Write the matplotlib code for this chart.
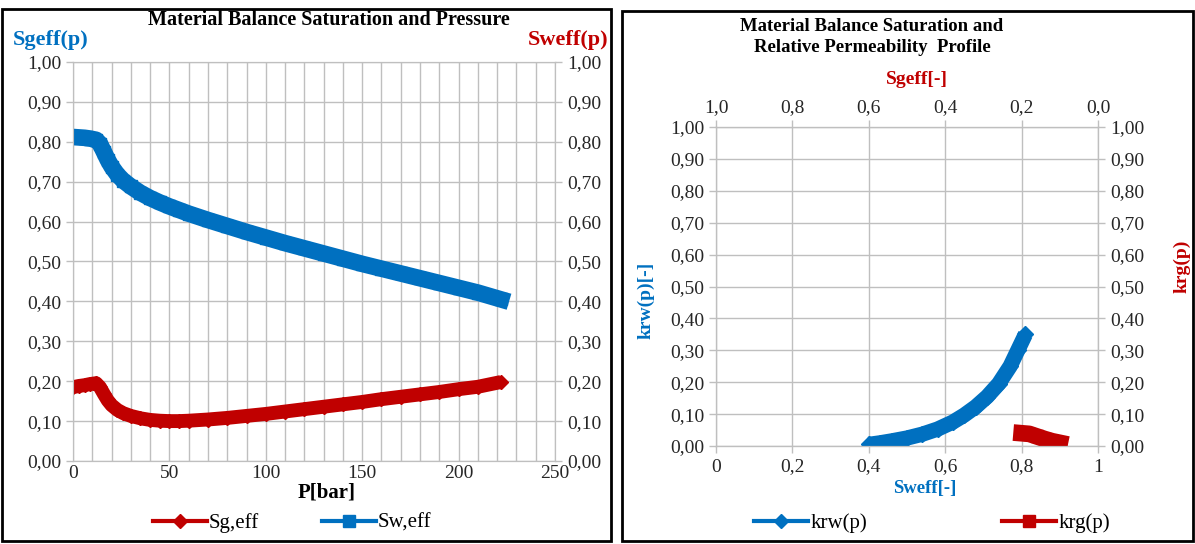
import matplotlib.pyplot as plt
from matplotlib.patches import Rectangle
from matplotlib.ticker import FuncFormatter, MultipleLocator

plt.rcParams['font.family'] = ['Liberation Serif', 'DejaVu Serif']

# pressure [bar] and effective saturations
pressure = [0, 3, 6, 9, 12, 14, 16, 18, 20, 23, 26, 30, 35, 40, 45, 50, 55, 60, 70, 80,
            90, 100, 110, 120, 130, 140, 150, 160, 170, 180, 190, 200, 210, 222]
sw_eff = [0.812, 0.811, 0.810, 0.808, 0.805, 0.795, 0.775, 0.755, 0.738, 0.718, 0.703,
          0.688, 0.672, 0.659, 0.648, 0.638, 0.629, 0.620, 0.604, 0.589, 0.574, 0.560,
          0.546, 0.533, 0.520, 0.507, 0.494, 0.482, 0.470, 0.458, 0.446, 0.434, 0.422, 0.405]
sg_eff = [0.185, 0.188, 0.190, 0.193, 0.195, 0.185, 0.168, 0.152, 0.140, 0.128, 0.120,
          0.113, 0.107, 0.103, 0.101, 0.100, 0.100, 0.101, 0.104, 0.108, 0.113, 0.118,
          0.124, 0.130, 0.136, 0.142, 0.148, 0.155, 0.161, 0.167, 0.173, 0.180, 0.186, 0.198]

# relative permeability vs effective water saturation
sw_krw = [0.40, 0.43, 0.46, 0.50, 0.54, 0.58, 0.62, 0.65, 0.68, 0.71, 0.74, 0.77, 0.79, 0.81]
krw = [0.005, 0.010, 0.016, 0.025, 0.037, 0.053, 0.075, 0.097, 0.123, 0.155, 0.195, 0.250, 0.300, 0.350]
sw_krg = [0.80, 0.82, 0.84, 0.86, 0.88, 0.90]
krg = [0.040, 0.038, 0.030, 0.022, 0.015, 0.010]

blue = '#0070C0'
red = '#C00000'
grid_c = '#BFBFBF'
W, H = 1195, 544

comma2 = FuncFormatter(lambda v, p: f'{v:.2f}'.replace('.', ','))
comma1 = FuncFormatter(lambda v, p: f'{v:.1f}'.replace('.', ','))
plain = FuncFormatter(lambda v, p: ('%g' % v).replace('.', ','))

fig = plt.figure(figsize=(W / 100, H / 100), dpi=100)

# panel frames
fig.patches.append(Rectangle((2 / W, 3 / H), 609 / W, 532 / H, transform=fig.transFigure,
                             fill=False, edgecolor='black', linewidth=2))
fig.patches.append(Rectangle((622 / W, 3 / H), 571 / W, 530 / H, transform=fig.transFigure,
                             fill=False, edgecolor='black', linewidth=2))


def style_axis(ax):
    for s in ax.spines.values():
        s.set_color(grid_c)
    ax.tick_params(labelsize=14, length=5, width=1, color=grid_c, labelcolor='#262626')


# ---- left: saturation vs pressure ----
ax1 = fig.add_axes([73 / W, 1 - 461 / H, 482 / W, 399 / H])
ax1.set_xlim(0, 250)
ax1.set_ylim(0, 1)
ax1.xaxis.set_major_locator(MultipleLocator(50))
ax1.xaxis.set_minor_locator(MultipleLocator(10))
ax1.yaxis.set_major_locator(MultipleLocator(0.1))
ax1.yaxis.set_major_formatter(comma2)
ax1.grid(True, which='both', color=grid_c, linewidth=1)
ax1.set_axisbelow(True)
ax1.plot(pressure, sg_eff, color=red, linewidth=10, marker='D', markersize=7,
         solid_capstyle='butt', zorder=3)
ax1.plot(pressure, sw_eff, color=blue, linewidth=12, marker='s', markersize=8,
         solid_capstyle='projecting', zorder=3)
style_axis(ax1)
ax1.tick_params(axis='x', which='both', length=0, pad=3)
ax1r = ax1.twinx()
ax1r.set_ylim(0, 1)
ax1r.yaxis.set_major_locator(MultipleLocator(0.1))
ax1r.yaxis.set_major_formatter(comma2)
style_axis(ax1r)
fig.text(327 / W, 1 - 492 / H, 'P[bar]', ha='center', va='center', fontsize=15, fontweight='bold')
fig.text(329 / W, 1 - 20 / H, 'Material Balance Saturation and Pressure', ha='center', va='center',
         fontsize=14.5, fontweight='bold')
fig.text(13 / W, 1 - 40 / H, 'Sgeff(p)', ha='left', va='center', fontsize=16,
         fontweight='bold', color=blue)
fig.text(608 / W, 1 - 40 / H, 'Sweff(p)', ha='right', va='center', fontsize=16,
         fontweight='bold', color=red)
h_sg = plt.Line2D([], [], color=red, linewidth=3, marker='D', markersize=7)
h_sw = plt.Line2D([], [], color=blue, linewidth=3, marker='s', markersize=9)
fig.legend([h_sg, h_sw], ['Sg,eff', 'Sw,eff'], loc='center', bbox_to_anchor=(292 / W, 1 - 523 / H),
           ncol=2, frameon=False, fontsize=15, columnspacing=3, handlelength=2.6, handletextpad=0.1)

# ---- right: relative permeability vs saturation ----
ax2 = fig.add_axes([716 / W, 1 - 446 / H, 382 / W, 319 / H])
ax2.set_xlim(0, 1)
ax2.set_ylim(0, 1)
ax2.xaxis.set_major_locator(MultipleLocator(0.2))
ax2.yaxis.set_major_locator(MultipleLocator(0.1))
ax2.xaxis.set_major_formatter(plain)
ax2.yaxis.set_major_formatter(comma2)
ax2.grid(True, color=grid_c, linewidth=1)
ax2.set_axisbelow(True)
ax2.plot(sw_krw, krw, color=blue, linewidth=11, marker='D', markersize=8,
         solid_capstyle='butt', zorder=3)
ax2.plot(sw_krg, krg, color=red, linewidth=12, marker='s', markersize=8,
         solid_capstyle='projecting', zorder=3)
style_axis(ax2)
ax2.tick_params(axis='x', length=5, pad=4)
ax2r = ax2.twinx()
ax2r.set_ylim(0, 1)
ax2r.yaxis.set_major_locator(MultipleLocator(0.1))
ax2r.yaxis.set_major_formatter(comma2)
style_axis(ax2r)
ax2t = ax2.twiny()
ax2t.set_xlim(1, 0)
ax2t.xaxis.set_major_locator(MultipleLocator(0.2))
ax2t.xaxis.set_major_formatter(comma1)
style_axis(ax2t)
ax2t.tick_params(axis='x', length=5, pad=3)
fig.text(917 / W, 1 - 80 / H, 'Sgeff[-]', ha='center', va='center', fontsize=14,
         fontweight='bold', color=red)
fig.text(925 / W, 1 - 488 / H, 'Sweff[-]', ha='center', va='center', fontsize=13.5,
         fontweight='bold', color=blue)
fig.text(646 / W, 1 - 300 / H, 'krw(p)[-]', ha='center', va='center', rotation=90, fontsize=14,
         fontweight='bold', color=blue)
fig.text(1182 / W, 1 - 266 / H, 'krg(p)', ha='center', va='center', rotation=90, fontsize=14,
         fontweight='bold', color=red)
fig.text(872 / W, 1 - 37 / H, 'Material Balance Saturation and\nRelative Permeability  Profile',
         ha='center', va='center', fontsize=13.5, fontweight='bold', linespacing=1.25)
h_w = plt.Line2D([], [], color=blue, linewidth=3, marker='D', markersize=7)
h_g = plt.Line2D([], [], color=red, linewidth=3, marker='s', markersize=9)
fig.legend([h_w, h_g], ['krw(p)', 'krg(p)'], loc='center', bbox_to_anchor=(932 / W, 1 - 523 / H),
           ncol=2, frameon=False, fontsize=15, columnspacing=6.5, handlelength=2.6, handletextpad=0.1)

fig.savefig('out.png', dpi=100)
